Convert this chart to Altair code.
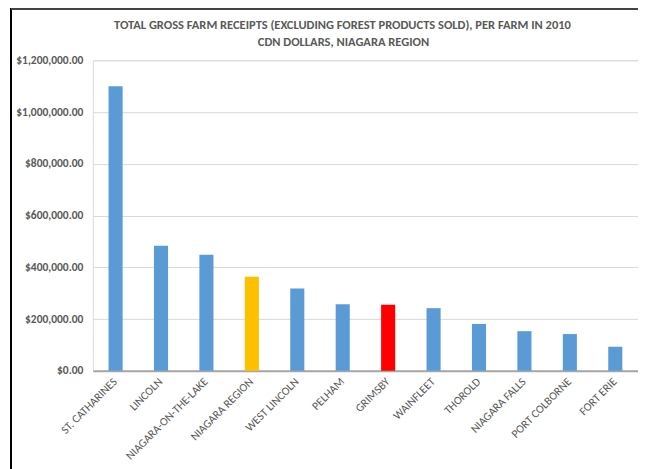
import altair as alt
import pandas as pd

municipalities = ["ST. CATHARINES", "LINCOLN", "NIAGARA-ON-THE-LAKE", "NIAGARA REGION",
                  "WEST LINCOLN", "PELHAM", "GRIMSBY", "WAINFLEET", "THOROLD",
                  "NIAGARA FALLS", "PORT COLBORNE", "FORT ERIE"]
receipts = [1100000, 483000, 448000, 363000, 318000, 257000, 255000, 242000,
            181000, 153000, 142000, 93000]
groups = ["Municipality", "Municipality", "Municipality", "Region",
          "Municipality", "Municipality", "Highlight", "Municipality",
          "Municipality", "Municipality", "Municipality", "Municipality"]
y_ticks = [0, 200000, 400000, 600000, 800000, 1000000, 1200000]
title_line1 = "TOTAL GROSS FARM RECEIPTS (EXCLUDING FOREST PRODUCTS SOLD), PER FARM IN 2010"
title_line2 = "CDN DOLLARS, NIAGARA REGION"

df = pd.DataFrame({"Municipality": municipalities, "Receipts": receipts, "Group": groups})

FONT = "Carlito, Lato, sans-serif"
TXT = "#595959"

bars = alt.Chart(df).mark_bar().encode(
    x=alt.X("Municipality:N", sort=municipalities,
            scale=alt.Scale(paddingInner=0.69, paddingOuter=0.345),
            axis=alt.Axis(title=None, labelAngle=-45, labelAlign="right",
                          labelBaseline="middle", labelPadding=9, ticks=False,
                          domainColor="#a6a6a6", domainWidth=2,
                          labelFont=FONT, labelFontSize=11.5, labelColor=TXT)),
    y=alt.Y("Receipts:Q", scale=alt.Scale(domain=[0, 1200000], nice=False),
            axis=alt.Axis(title=None, values=y_ticks, format="$,.2f", ticks=False,
                          domain=False, labelPadding=10, labelFont=FONT,
                          labelFontSize=11.5, labelFontWeight="bold", labelColor=TXT,
                          gridColor="#d9d9d9", gridWidth=1)),
    color=alt.Color("Group:N",
                    scale=alt.Scale(domain=["Municipality", "Region", "Highlight"],
                                    range=["#5b9bd5", "#ffc000", "#ff0000"]),
                    legend=None),
)

title1 = alt.Chart(pd.DataFrame({"t": [title_line1]})).mark_text(
    font=FONT, fontSize=12.5, fontWeight="bold", color=TXT, baseline="middle",
    align="center", clip=False).encode(text="t:N", x=alt.value(250), y=alt.value(-35))
title2 = alt.Chart(pd.DataFrame({"t": [title_line2]})).mark_text(
    font=FONT, fontSize=12.5, fontWeight="bold", color=TXT, baseline="middle",
    align="center", clip=False).encode(text="t:N", x=alt.value(251), y=alt.value(-18))

frame_v = alt.Chart(df).mark_rule(color="#000000", strokeWidth=1.5, clip=False).encode(
    x=alt.value(-82), y=alt.value(-52), y2=alt.value(420))
frame_h = alt.Chart(df).mark_rule(color="#444444", strokeWidth=1.5, clip=False).encode(
    x=alt.value(-82), x2=alt.value(560), y=alt.value(-51))

chart = alt.layer(bars, title1, title2, frame_v, frame_h).properties(
    width=546, height=311,
    padding={"left": 85, "top": 52, "right": 0, "bottom": 98},
    autosize=alt.AutoSizeParams(type="none"),
).configure_view(stroke="#404040", strokeWidth=1.2).configure(background="white")

chart.save("out.html", embed_options={"renderer": "svg", "actions": False})
